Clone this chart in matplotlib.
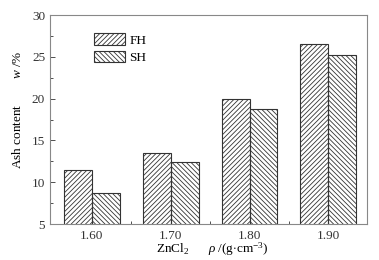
import matplotlib
matplotlib.use("Agg")
import matplotlib.pyplot as plt
import numpy as np
from matplotlib.ticker import MultipleLocator, FixedLocator

categories = ["1.60", "1.70", "1.80", "1.90"]
fh = [11.5, 13.45, 20.0, 26.5]
sh = [8.7, 12.4, 18.7, 25.2]

plt.rcParams['font.family'] = ['Liberation Serif', 'DejaVu Serif']
plt.rcParams['mathtext.fontset'] = 'custom'
plt.rcParams['mathtext.rm'] = 'Liberation Serif'
plt.rcParams['mathtext.it'] = 'Liberation Serif:italic'
plt.rcParams['mathtext.bf'] = 'Liberation Serif:bold'
plt.rcParams['hatch.linewidth'] = 0.6
plt.rcParams['hatch.color'] = '#222222'

fig = plt.figure(figsize=(3.79, 2.60), dpi=100)
ax = fig.add_axes([50/379, 1-224/260, 317/379, 209/260])

x = np.arange(len(categories))
w = 0.355
ax.bar(x - w/2, fh, w, bottom=0, fill=False, hatch='///////', edgecolor='#333333', linewidth=0.8, label='FH')
ax.bar(x + w/2, sh, w, bottom=0, fill=False, hatch='\\\\\\\\\\\\\\', edgecolor='#333333', linewidth=0.8, label='SH')

ax.set_ylim(5, 30)
ax.set_xlim(-0.53, 3.49)
ax.set_xticks(x)
ax.set_xticklabels(categories)
ax.xaxis.set_minor_locator(FixedLocator([0.5, 1.5, 2.5]))
ax.yaxis.set_major_locator(MultipleLocator(5))
ax.yaxis.set_minor_locator(MultipleLocator(2.5))
ax.tick_params(axis='both', which='both', direction='in', top=False, right=False, labelsize=9.5, colors='#333333')
ax.tick_params(axis='both', which='major', length=3.5, width=0.6)
ax.tick_params(axis='both', which='minor', length=2, width=0.6)
ax.tick_params(axis='x', which='major', length=0, pad=4)
for s in ax.spines.values():
    s.set_color('#888888')
    s.set_linewidth(0.8)

fig.text(18/379, 1-110/260, 'Ash content        $w$ /%', rotation=90, ha='center', va='center', fontsize=9.5)
fig.text(212/379, 1-249/260, r'ZnCl$_2$      $\rho$ /(g$\cdot$cm$^{-3}$)', ha='center', va='center', fontsize=9.5)

ax.legend(loc='upper left', bbox_to_anchor=(0.1, 0.97), frameon=False, fontsize=9.5,
          handlelength=2.4, handleheight=1.0, labelspacing=0.3, handletextpad=0.3)

fig.savefig('out.png', dpi=100)
